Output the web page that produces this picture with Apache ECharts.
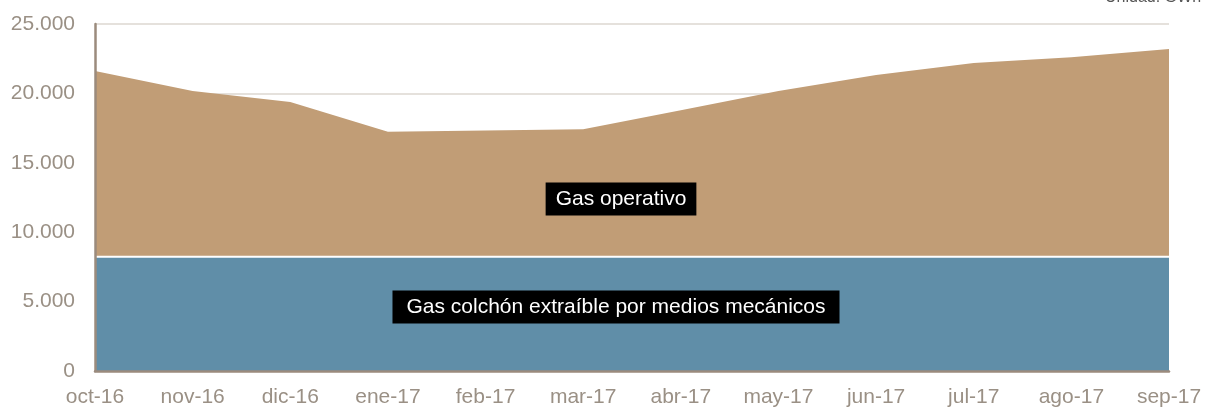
<!DOCTYPE html>
<html>
<head>
<meta charset="utf-8">
<script src="https://cdn.jsdelivr.net/npm/echarts@6/dist/echarts.min.js"></script>
<style>
  html, body { margin: 0; padding: 0; background: #ffffff; }
  #chart { width: 1208px; height: 408px; }
</style>
</head>
<body>
<div id="chart"></div>
<script>
// Monthly storage capacity split (GWh)
const months = ['oct-16', 'nov-16', 'dic-16', 'ene-17', 'feb-17', 'mar-17',
                'abr-17', 'may-17', 'jun-17', 'jul-17', 'ago-17', 'sep-17'];
const gasColchon = [8230, 8230, 8230, 8230, 8230, 8230, 8230, 8230, 8230, 8230, 8230, 8230];
const gasOperativo = [13380, 11940, 11150, 9010, 9090, 9180, 10550, 11940, 13100, 13960, 14370, 14970];
const yTicks = { min: 0, max: 25000, interval: 5000 };

const tickColor = '#9a9085';
const axisColor = '#9b8b7d';
const font = 'Liberation Sans, Arial, sans-serif';

const chart = echarts.init(document.getElementById('chart'), null, { renderer: 'canvas' });

const valueAxisBase = {
  type: 'value',
  min: yTicks.min,
  max: yTicks.max,
  interval: yTicks.interval,
  position: 'left',
  axisTick: { show: false }
};

chart.setOption({
  animation: false,
  backgroundColor: '#ffffff',
  grid: { left: 95, right: 39, top: 24, bottom: 37 },
  xAxis: {
    type: 'category',
    data: months,
    boundaryGap: false,
    z: 10,
    axisLine: { show: true, lineStyle: { color: axisColor, width: 2.5 } },
    axisTick: { show: false },
    axisLabel: { color: tickColor, fontFamily: font, fontSize: 21, margin: 16, interval: 0 },
    splitLine: { show: false }
  },
  yAxis: [
    // labels and gridlines, drawn beneath the areas
    Object.assign({}, valueAxisBase, {
      axisLine: { show: false },
      axisLabel: {
        color: tickColor, fontFamily: font, fontSize: 21, margin: 20,
        formatter: v => v.toString().replace(/\B(?=(\d{3})+(?!\d))/g, '.')
      },
      splitLine: { show: true, lineStyle: { color: '#dcd7d1', width: 1.5 } }
    }),
    // axis line drawn above the areas
    Object.assign({}, valueAxisBase, {
      z: 10,
      axisLine: { show: true, onZero: false, lineStyle: { color: axisColor, width: 2.5 } },
      axisLabel: { show: false },
      splitLine: { show: false }
    })
  ],
  series: [
    {
      name: 'Gas colchón extraíble por medios mecánicos',
      type: 'line',
      stack: 'total',
      data: gasColchon,
      symbol: 'none',
      lineStyle: { color: '#ffffff', width: 2 },
      areaStyle: { color: '#608ea8', opacity: 1 },
      z: 3
    },
    {
      name: 'Gas operativo',
      type: 'line',
      stack: 'total',
      data: gasOperativo,
      symbol: 'none',
      lineStyle: { width: 0 },
      areaStyle: { color: '#c19d76', opacity: 1 },
      z: 2
    }
  ],
  graphic: [
    {
      type: 'text', x: 621, y: 199,
      style: {
        text: 'Gas operativo', fill: '#ffffff', font: '21px ' + font,
        align: 'center', verticalAlign: 'middle',
        backgroundColor: '#000000', padding: [6, 10, 6, 10]
      },
      z: 20
    },
    {
      type: 'text', x: 616, y: 307,
      style: {
        text: 'Gas colchón extraíble por medios mecánicos', fill: '#ffffff', font: '21px ' + font,
        align: 'center', verticalAlign: 'middle',
        backgroundColor: '#000000', padding: [6, 14, 6, 14]
      },
      z: 20
    },
    {
      type: 'text', x: 1105, y: -10,
      style: { text: 'Unidad: GWh', fill: '#555555', font: '16px ' + font },
      z: 20
    }
  ]
});
</script>
</body>
</html>
